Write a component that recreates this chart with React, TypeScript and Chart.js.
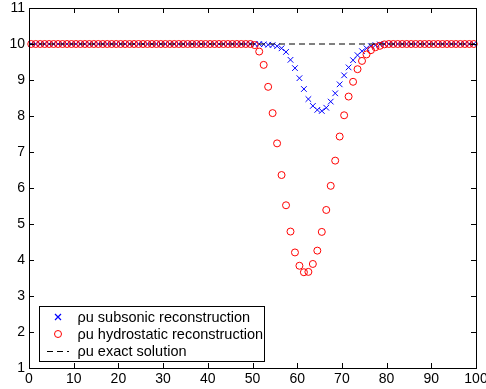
import { useEffect, useRef } from "react";
import { Chart, registerables } from "chart.js";

Chart.register(...registerables);

// Cell centres of the 100-cell grid on [0, 100]
const cellCenters = [
  0.5, 1.5, 2.5, 3.5, 4.5, 5.5, 6.5, 7.5, 8.5, 9.5,
  10.5, 11.5, 12.5, 13.5, 14.5, 15.5, 16.5, 17.5, 18.5, 19.5,
  20.5, 21.5, 22.5, 23.5, 24.5, 25.5, 26.5, 27.5, 28.5, 29.5,
  30.5, 31.5, 32.5, 33.5, 34.5, 35.5, 36.5, 37.5, 38.5, 39.5,
  40.5, 41.5, 42.5, 43.5, 44.5, 45.5, 46.5, 47.5, 48.5, 49.5,
  50.5, 51.5, 52.5, 53.5, 54.5, 55.5, 56.5, 57.5, 58.5, 59.5,
  60.5, 61.5, 62.5, 63.5, 64.5, 65.5, 66.5, 67.5, 68.5, 69.5,
  70.5, 71.5, 72.5, 73.5, 74.5, 75.5, 76.5, 77.5, 78.5, 79.5,
  80.5, 81.5, 82.5, 83.5, 84.5, 85.5, 86.5, 87.5, 88.5, 89.5,
  90.5, 91.5, 92.5, 93.5, 94.5, 95.5, 96.5, 97.5, 98.5, 99.5,
];

// ρu with the subsonic reconstruction
const rhoUSubsonic = [
  10, 10, 10, 10, 10, 10, 10, 10, 10, 10,
  10, 10, 10, 10, 10, 10, 10, 10, 10, 10,
  10, 10, 10, 10, 10, 10, 10, 10, 10, 10,
  10, 10, 10, 10, 10, 10, 10, 10, 10, 10,
  10, 10, 10, 10, 10, 10, 10, 10, 10, 10,
  10, 10, 9.99, 9.98, 9.97, 9.94, 9.88, 9.78, 9.56, 9.33,
  9.05, 8.75, 8.47, 8.28, 8.17, 8.14, 8.23, 8.4, 8.63, 8.88,
  9.13, 9.35, 9.55, 9.69, 9.8, 9.88, 9.94, 9.97, 9.99, 10,
  10, 10, 10, 10, 10, 10, 10, 10, 10, 10,
  10, 10, 10, 10, 10, 10, 10, 10, 10, 10,
];

// ρu with the hydrostatic reconstruction
const rhoUHydrostatic = [
  10, 10, 10, 10, 10, 10, 10, 10, 10, 10,
  10, 10, 10, 10, 10, 10, 10, 10, 10, 10,
  10, 10, 10, 10, 10, 10, 10, 10, 10, 10,
  10, 10, 10, 10, 10, 10, 10, 10, 10, 10,
  10, 10, 10, 10, 10, 10, 10, 10, 10, 10,
  9.97, 9.79, 9.42, 8.81, 8.08, 7.24, 6.36, 5.52, 4.79, 4.21,
  3.84, 3.66, 3.67, 3.89, 4.26, 4.78, 5.39, 6.06, 6.76, 7.43,
  8.02, 8.54, 8.95, 9.3, 9.53, 9.71, 9.83, 9.91, 9.95, 9.99,
  10, 10, 10, 10, 10, 10, 10, 10, 10, 10,
  10, 10, 10, 10, 10, 10, 10, 10, 10, 10,
];

// Exact solution: constant ρu over the domain
const exactX = [0, 100];
const exactY = [10, 10];

const xTicks = [0, 10, 20, 30, 40, 50, 60, 70, 80, 90, 100];
const yTicks = [1, 2, 3, 4, 5, 6, 7, 8, 9, 10, 11];

const seriesLabels = [
  "ρu subsonic reconstruction",
  "ρu hydrostatic reconstruction",
  "ρu exact solution",
];

const FONT = "Liberation Sans, Arial, Helvetica, sans-serif";
const BLUE = "#0000ff";
const RED = "#ff0000";

const toPoints = (xs: number[], ys: number[]) => xs.map((x, i) => ({ x, y: ys[i] }));

// Boxed axes with inward ticks on all four sides, plus an inset legend
const frameLegendPlugin = {
  id: "frameLegend",
  afterDraw(chart: any) {
    const { ctx, chartArea: a, scales } = chart;
    const xs = scales.x;
    const ys = scales.y;
    ctx.save();
    ctx.strokeStyle = "#000";
    ctx.lineWidth = 1;
    ctx.setLineDash([]);
    ctx.strokeRect(a.left + 0.5, a.top + 0.5, a.right - a.left, a.bottom - a.top);

    const tl = 5;
    ctx.beginPath();
    xTicks.forEach((v) => {
      const px = Math.round(xs.getPixelForValue(v)) + 0.5;
      ctx.moveTo(px, a.bottom);
      ctx.lineTo(px, a.bottom - tl);
      ctx.moveTo(px, a.top);
      ctx.lineTo(px, a.top + tl);
    });
    yTicks.forEach((v) => {
      const py = Math.round(ys.getPixelForValue(v)) + 0.5;
      ctx.moveTo(a.left, py);
      ctx.lineTo(a.left + tl, py);
      ctx.moveTo(a.right, py);
      ctx.lineTo(a.right - tl, py);
    });
    ctx.stroke();

    // Legend box
    const bx = a.left + 10.5;
    const bw = 225;
    const bh = 55;
    const by = a.bottom - 61.5;
    ctx.fillStyle = "#fff";
    ctx.fillRect(bx, by, bw, bh);
    ctx.strokeRect(bx, by, bw, bh);

    const mx = Math.round(bx + 18);
    const tx = bx + 38;
    const rows = [Math.round(by + 10), Math.round(by + 27), Math.round(by + 44)];
    ctx.font = `14.5px ${FONT}`;
    ctx.textBaseline = "middle";
    ctx.textAlign = "left";

    // subsonic: blue cross
    ctx.strokeStyle = BLUE;
    ctx.lineWidth = 1.2;
    ctx.beginPath();
    ctx.moveTo(mx - 3, rows[0] - 3);
    ctx.lineTo(mx + 3, rows[0] + 3);
    ctx.moveTo(mx + 3, rows[0] - 3);
    ctx.lineTo(mx - 3, rows[0] + 3);
    ctx.stroke();
    ctx.lineWidth = 1;

    // hydrostatic: red circle
    ctx.strokeStyle = RED;
    ctx.beginPath();
    ctx.arc(mx, rows[1], 3.5, 0, Math.PI * 2);
    ctx.stroke();

    // exact: dashed black
    ctx.strokeStyle = "#000";
    ctx.setLineDash([6, 4]);
    ctx.beginPath();
    ctx.moveTo(mx - 11, rows[2] + 0.5);
    ctx.lineTo(mx + 11, rows[2] + 0.5);
    ctx.stroke();
    ctx.setLineDash([]);

    ctx.fillStyle = "#000";
    seriesLabels.forEach((t, i) => ctx.fillText(t, tx, rows[i] + 0.5));
    ctx.restore();
  },
};

export default function App() {
  const canvasRef = useRef<HTMLCanvasElement | null>(null);

  useEffect(() => {
    const canvas = canvasRef.current;
    if (!canvas) return;
    const chart = new Chart(canvas, {
      type: "scatter",
      data: {
        datasets: [
          {
            label: seriesLabels[2],
            data: toPoints(exactX, exactY),
            showLine: true,
            borderColor: "#000",
            borderWidth: 1,
            borderDash: [6, 4],
            pointRadius: 0,
            clip: false as any,
          },
          {
            label: seriesLabels[1],
            data: toPoints(cellCenters, rhoUHydrostatic),
            showLine: false,
            pointStyle: "circle",
            pointRadius: 3.5,
            borderColor: RED,
            backgroundColor: "rgba(0,0,0,0)",
            borderWidth: 1,
            clip: false as any,
          },
          {
            label: seriesLabels[0],
            data: toPoints(cellCenters, rhoUSubsonic),
            showLine: false,
            pointStyle: "crossRot",
            pointRadius: 4,
            borderColor: BLUE,
            backgroundColor: BLUE,
            borderWidth: 1,
            clip: false as any,
          },
        ],
      },
      options: {
        animation: false,
        responsive: false,
        devicePixelRatio: 1,
        layout: { padding: { top: 8, right: 10, bottom: 0, left: 0 } },
        plugins: {
          legend: { display: false },
          tooltip: { enabled: false },
        },
        scales: {
          x: {
            type: "linear",
            min: 0,
            max: 100,
            grid: { display: false, drawTicks: false },
            border: { display: false },
            afterBuildTicks: (s: any) => {
              s.ticks = xTicks.map((v) => ({ value: v }));
            },
            afterFit: (s: any) => {
              s.height = 21;
              s.paddingLeft = 0;
              s.paddingRight = 0;
            },
            ticks: {
              color: "#000",
              font: { family: FONT, size: 14 },
              padding: 3,
              maxRotation: 0,
              autoSkip: false,
            },
          },
          y: {
            type: "linear",
            min: 1,
            max: 11,
            grid: { display: false, drawTicks: false },
            border: { display: false },
            afterBuildTicks: (s: any) => {
              s.ticks = yTicks.map((v) => ({ value: v }));
            },
            afterFit: (s: any) => {
              s.width = 29;
              s.paddingTop = 0;
              s.paddingBottom = 0;
            },
            ticks: {
              color: "#000",
              font: { family: FONT, size: 14 },
              padding: 4,
              autoSkip: false,
            },
          },
        },
      },
      plugins: [frameLegendPlugin],
    });
    return () => chart.destroy();
  }, []);

  return (
    <div style={{ position: "absolute", left: 0, top: 0, width: 486, height: 389, background: "#fff" }}>
      <canvas ref={canvasRef} width={486} height={389} style={{ display: "block" }} />
    </div>
  );
}
